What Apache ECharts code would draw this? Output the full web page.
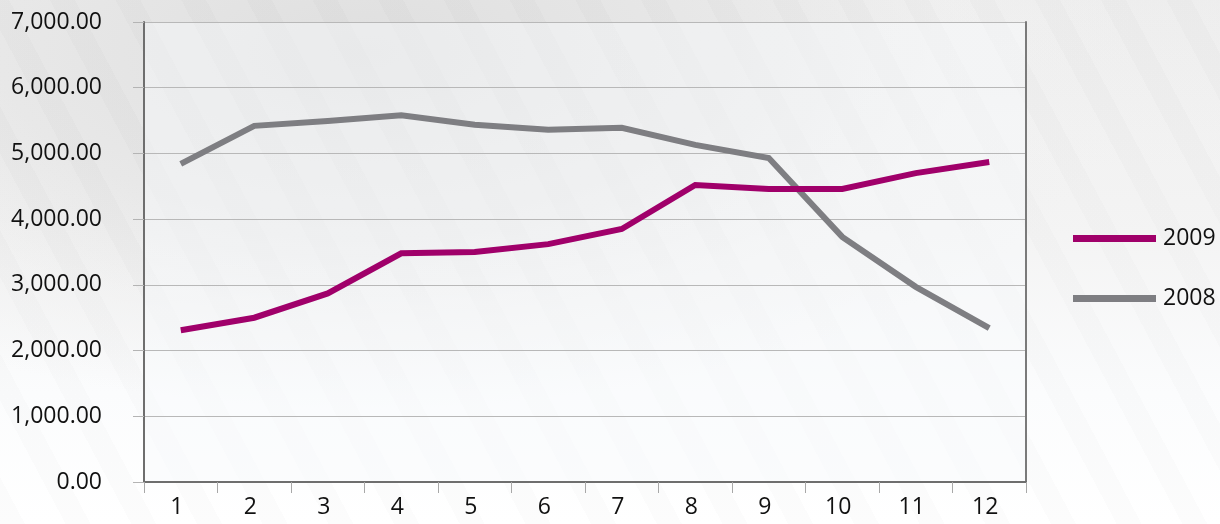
<!DOCTYPE html>
<html>
<head>
<meta charset="utf-8">
<script src="https://cdn.jsdelivr.net/npm/echarts@6/dist/echarts.min.js"></script>
<style>
html,body{margin:0;padding:0;}
body{
  width:1220px;height:524px;overflow:hidden;
  background:
    repeating-linear-gradient(62deg, rgba(0,0,0,0.012) 0px, rgba(0,0,0,0.012) 22px, rgba(255,255,255,0.04) 22px, rgba(255,255,255,0.04) 58px),
    radial-gradient(ellipse 75% 80% at 30% 10%, #dedede 0%, #e7e7e7 40%, rgba(240,240,240,0.6) 65%, rgba(255,255,255,0) 85%),
    linear-gradient(to bottom, #ededed 0%, #f4f4f4 45%, #fbfcfd 75%, #ffffff 100%);
}
#chart{width:1220px;height:524px;}
</style>
</head>
<body>
<div id="chart"></div>
<script>
const categories = ['1','2','3','4','5','6','7','8','9','10','11','12'];
const series2009 = [2310, 2500, 2870, 3480, 3500, 3620, 3850, 4520, 4460, 4460, 4700, 4870];
const series2008 = [4840, 5420, 5495, 5580, 5435, 5360, 5390, 5130, 4930, 3730, 2970, 2340];
const yTicks = { min: 0, max: 7000, interval: 1000 };

const chart = echarts.init(document.getElementById('chart'), null, {renderer: 'canvas'});
const fontFamily = '"Open Sans", "Noto Sans", sans-serif';
chart.setOption({
  backgroundColor: 'transparent',
  animation: false,
  grid: {
    left: 144, right: 194, top: 22, bottom: 42,
    show: true,
    backgroundColor: 'rgba(248,250,253,0.45)',
    borderWidth: 0
  },
  legend: {
    orient: 'vertical',
    left: 1073,
    top: 227,
    padding: 0,
    itemWidth: 83,
    itemHeight: 7,
    itemGap: 37,
    icon: 'rect',
    data: ['2009', '2008'],
    textStyle: { fontSize: 23, color: '#111', fontFamily: fontFamily, padding: [14, 0, 0, 2] }
  },
  xAxis: {
    type: 'category',
    data: categories,
    boundaryGap: true,
    axisLine: { show: true, lineStyle: { color: '#6e6e6e', width: 2 } },
    axisTick: { show: true, length: 11, lineStyle: { color: '#a8a8a8', width: 1 } },
    axisLabel: { fontSize: 23, color: '#111', fontFamily: fontFamily, margin: 14, padding: [0, 8, 0, 0] },
    splitLine: { show: false }
  },
  yAxis: [{
    type: 'value',
    min: yTicks.min, max: yTicks.max, interval: yTicks.interval,
    axisLine: { show: true, lineStyle: { color: '#6e6e6e', width: 2 } },
    axisTick: { show: true, inside: false, length: 11, lineStyle: { color: '#b4b4b4', width: 1 } },
    axisLabel: {
      fontSize: 23, color: '#111', fontFamily: fontFamily, margin: 42,
      formatter: v => v.toLocaleString('en-US', {minimumFractionDigits: 2, maximumFractionDigits: 2})
    },
    splitLine: { show: true, lineStyle: { color: '#b8b8b8', width: 1 } }
  }, {
    type: 'value', position: 'right',
    min: yTicks.min, max: yTicks.max, interval: yTicks.interval,
    axisLine: { show: true, lineStyle: { color: '#7a7a7a', width: 2 } },
    axisTick: { show: false }, axisLabel: { show: false }, splitLine: { show: false }
  }],
  series: [{
    name: '2009', type: 'line', data: series2009,
    symbol: 'none', lineStyle: { width: 6, color: '#a0006a', join: 'miter' },
    itemStyle: { color: '#a0006a' }, z: 3
  }, {
    name: '2008', type: 'line', data: series2008,
    symbol: 'none', lineStyle: { width: 6, color: '#7e7e82', join: 'miter' },
    itemStyle: { color: '#7e7e82' }, z: 2
  }]
});
</script>
</body>
</html>
